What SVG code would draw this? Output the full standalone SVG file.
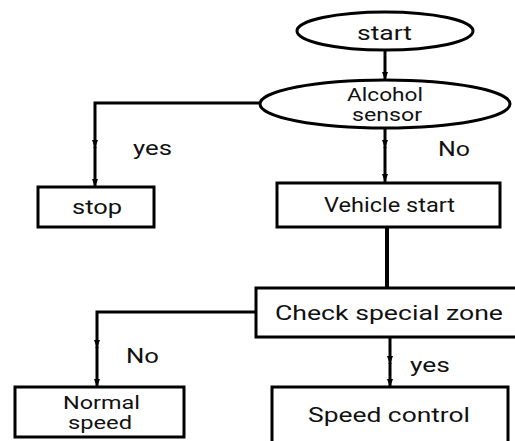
<svg xmlns="http://www.w3.org/2000/svg" width="515" height="441" viewBox="0 0 515 441">
<defs>
<marker id="arr" viewBox="0 0 8 8" refX="8" refY="4" markerWidth="8" markerHeight="8" markerUnits="userSpaceOnUse" orient="auto">
<path d="M0,1 L8,4 L0,7 z" fill="#000"/>
</marker>
<style>
.n{fill:#fff;stroke:#000;stroke-width:3}
.c{fill:none;stroke:#000;stroke-width:3}
.t{font-family:Roboto,"Liberation Sans",sans-serif;font-size:20px;fill:#111}
.s{font-size:18px}
.m{text-anchor:middle}
</style>
</defs>
<rect width="515" height="441" fill="#fff"/>
<g id="connectors">
<path class="c" d="M385,50 V80" marker-end="url(#arr)"/>
<path class="c" d="M260,103 H95 V148" marker-end="url(#arr)"/>
<path class="c" d="M95,147 V187" marker-end="url(#arr)"/>
<path class="c" d="M385,128 V148" marker-end="url(#arr)"/>
<path class="c" d="M385,147 V182" marker-end="url(#arr)"/>
<path class="c" d="M387,227 V288" style="stroke-width:4"/>
<path class="c" d="M256,312 H97 V348" marker-end="url(#arr)"/>
<path class="c" d="M97,347 V387" marker-end="url(#arr)"/>
<path class="c" d="M390,337 V364" marker-end="url(#arr)"/>
<path class="c" d="M390,363 V387" marker-end="url(#arr)"/>
</g>
<g id="start">
<ellipse class="n" cx="385" cy="31" rx="88" ry="19"/>
<text class="t m" x="384.5" y="40" textLength="55" lengthAdjust="spacingAndGlyphs">start</text>
</g>
<g id="alcohol">
<ellipse class="n" cx="385" cy="104" rx="125" ry="24"/>
<text class="t s m" x="385" y="101" textLength="76" lengthAdjust="spacingAndGlyphs">Alcohol</text>
<text class="t s m" x="387" y="121" textLength="70" lengthAdjust="spacingAndGlyphs">sensor</text>
</g>
<g id="stop">
<rect class="n" x="38" y="187" width="116" height="40"/>
<text class="t m" x="97" y="214" textLength="50" lengthAdjust="spacingAndGlyphs">stop</text>
</g>
<g id="vehicle">
<rect class="n" x="277" y="183" width="223" height="44"/>
<text class="t m" x="389.5" y="212" textLength="131" lengthAdjust="spacingAndGlyphs">Vehicle start</text>
</g>
<g id="check">
<rect class="n" x="256" y="288" width="262" height="49"/>
<text class="t m" x="389" y="320" textLength="228" lengthAdjust="spacingAndGlyphs">Check special zone</text>
</g>
<g id="normal">
<rect class="n" x="15" y="387" width="169" height="50"/>
<text class="t s m" x="101.5" y="409" textLength="77" lengthAdjust="spacingAndGlyphs">Normal</text>
<text class="t s m" x="100" y="429" textLength="64" lengthAdjust="spacingAndGlyphs">speed</text>
</g>
<g id="speedcontrol">
<rect class="n" x="272" y="387" width="236" height="60"/>
<text class="t m" x="389" y="422" textLength="162" lengthAdjust="spacingAndGlyphs">Speed control</text>
</g>
<g id="labels">
<text class="t" x="133" y="155" textLength="39" lengthAdjust="spacingAndGlyphs">yes</text>
<text class="t" x="438" y="156" textLength="32" lengthAdjust="spacingAndGlyphs">No</text>
<text class="t" x="126" y="363" textLength="33" lengthAdjust="spacingAndGlyphs">No</text>
<text class="t" x="410" y="372" textLength="40" lengthAdjust="spacingAndGlyphs">yes</text>
</g>
</svg>
